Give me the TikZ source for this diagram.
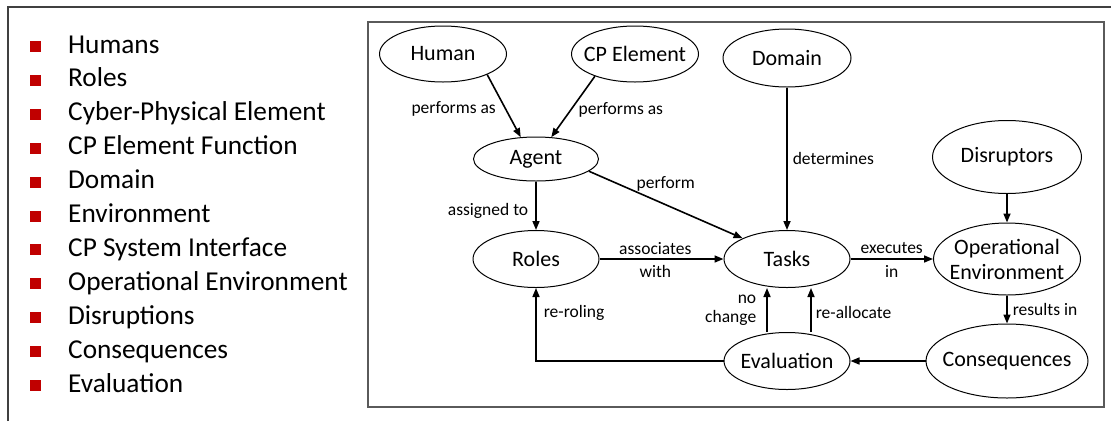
\documentclass[tikz,border=0pt]{standalone}
\usepackage{fontspec}
\setmainfont{Carlito}
\usetikzlibrary{shapes,arrows.meta,calc,positioning}

\definecolor{bulletred}{RGB}{192,0,0}
\definecolor{framegray}{RGB}{64,64,64}
\definecolor{boxgray}{RGB}{90,90,90}

\begin{document}
\begin{tikzpicture}[x=1pt, y=-1pt, node distance=100pt,
  ent/.style={draw, ellipse, inner sep=0pt, line width=1pt, minimum width=126pt, minimum height=57pt},
  entlbl/.style={font=\fontsize{22}{25}\selectfont, align=center},
  rel/.style={-{Triangle[length=9pt,width=7pt]}, line width=1.6pt},
  rellbl/.style={font=\fontsize{17.5}{19}\selectfont, inner sep=3pt},
  bul/.style={fill=bulletred, minimum size=11pt, inner sep=0pt},
  item/.style={anchor=base west, inner sep=0pt, font=\fontsize{27.3}{30}\selectfont}]

\useasboundingbox (0,0) rectangle (1111,421);

%frames
\draw[framegray, line width=1.2pt] (8,421) -- (8,7) -- (1111,7);
\draw[boxgray, line width=1.5pt] (368,22) rectangle (1104,407);

%list
\foreach \t [count=\i] in {Humans, Roles, Cyber-Physical Element, CP Element Function, Domain, Environment, CP System Interface, Operational Environment, Disruptions, Consequences, Evaluation}{
  \node[bul] (b\i) at (35.5, {46.5+(\i-1)*33.9}) {};
  \node[item] (l\i) at (68, {53+(\i-1)*33.9}) {\t};
}

%nodes
\node [ent, label={[entlbl]center:Roles}] (roles) at (536,259) {};
\node [ent, minimum width=125pt, minimum height=44pt, label={[entlbl]center:Agent}, above of=roles] (agent) {};
\node [ent, label={[entlbl]center:Tasks}, right of=roles, xshift=151pt] (tasks) {};
\node [ent, minimum width=147pt, minimum height=72pt, label={[entlbl]center:Operational\\Environment}, right of=tasks, xshift=120pt] (openv) {};
\node [ent, minimum width=149pt, minimum height=73pt, label={[entlbl]center:Disruptors}, above of=openv, yshift=2pt] (disr) {};
\node [ent, minimum width=162pt, minimum height=74pt, label={[entlbl]center:Consequences}, below of=openv, yshift=-2pt] (cons) {};
\node [ent, label={[entlbl]center:Evaluation}, below of=tasks, yshift=-2pt] (eval) {};
\node [ent, minimum width=128pt, minimum height=58pt, label={[entlbl]center:Domain}, above of=tasks, yshift=101pt] (domain) {};
\node [ent, minimum width=127pt, minimum height=56pt, label={[entlbl]center:Human}, above of=agent, xshift=-93pt, yshift=5pt] (human) {};
\node [ent, minimum width=127pt, minimum height=56pt, label={[entlbl]center:CP Element}, above of=agent, xshift=99pt, yshift=5pt] (cpel) {};

%connectors
\draw[rel] (human.-25) -- node[rellbl, left, pos=.55, inner sep=9pt]{performs as} (agent.125);
\draw[rel] (cpel.-151) -- node[rellbl, right, pos=.55, inner sep=7pt]{performs as} (agent.55);
\draw[rel] (agent) -- node[rellbl, left, pos=.6, inner sep=7pt]{assigned to} (roles);
\draw[rel] (agent.-13) -- node[rellbl, above, pos=.5, yshift=10pt]{perform} (tasks.155);
\draw[rel] (roles) -- node[rellbl, above, inner sep=4pt, pos=.45]{associates} node[rellbl, below, inner sep=6pt, pos=.45]{with} (tasks);
\draw[rel] (domain) -- node[rellbl, right, inner sep=5pt]{determines} (tasks);
\draw[rel] (tasks) -- node[rellbl, above, inner sep=5pt]{executes} node[rellbl, below, inner sep=6pt]{in} (openv);
\draw[rel] (disr) -- (openv);
\draw[rel] (openv) -- node[rellbl, right, inner sep=5pt]{results in} (cons);
\draw[rel] (cons) -- (eval);
\draw[rel] ([xshift=-20pt]eval.north) -- node[rellbl, left, align=right, inner sep=10pt]{no\\change} ([xshift=-20pt]tasks.south);
\draw[rel] ([xshift=24pt]eval.north) -- node[rellbl, right, inner sep=4pt, yshift=-2pt]{re-allocate} ([xshift=24pt]tasks.south);
\draw[rel] (eval.west) -| node[rellbl, right, pos=.83, inner sep=7pt]{re-roling} (roles.south);

\end{tikzpicture}
\end{document}
